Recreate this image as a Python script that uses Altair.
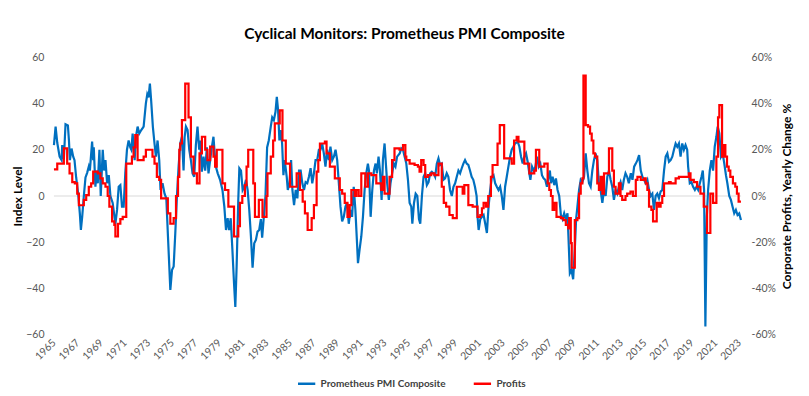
import altair as alt
import pandas as pd

# ---- Data ----
pmi_years = [
    1965.00, 1965.14, 1965.28, 1965.48, 1965.65, 1965.70, 1965.84, 1965.98, 1966.18, 1966.27,
    1966.35, 1966.49, 1966.63, 1966.74, 1966.88, 1967.05, 1967.19, 1967.28, 1967.39, 1967.53,
    1967.67, 1967.81, 1967.95, 1968.04, 1968.23, 1968.32, 1968.37, 1968.51, 1968.60, 1968.71,
    1968.85, 1968.96, 1969.13, 1969.24, 1969.36, 1969.50, 1969.64, 1969.78, 1969.97, 1970.20,
    1970.34, 1970.48, 1970.62, 1970.76, 1970.90, 1971.04, 1971.18, 1971.32, 1971.46, 1971.55,
    1971.66, 1971.83, 1971.94, 1972.08, 1972.22, 1972.39, 1972.59, 1972.78, 1972.90, 1973.01,
    1973.12, 1973.23, 1973.37, 1973.51, 1973.63, 1973.77, 1973.91, 1974.02, 1974.19, 1974.36,
    1974.51, 1974.65, 1974.85, 1974.99, 1975.13, 1975.27, 1975.41, 1975.55, 1975.69, 1975.83,
    1975.97, 1976.06, 1976.17, 1976.31, 1976.45, 1976.59, 1976.73, 1976.87, 1977.01, 1977.15,
    1977.29, 1977.38, 1977.52, 1977.66, 1977.80, 1977.94, 1978.08, 1978.22, 1978.36, 1978.50,
    1978.58, 1978.70, 1978.86, 1979.06, 1979.26, 1979.42, 1979.56, 1979.70, 1979.82, 1979.96,
    1980.10, 1980.24, 1980.35, 1980.46, 1980.60, 1980.69, 1980.83, 1980.97, 1981.11, 1981.25,
    1981.39, 1981.53, 1981.67, 1981.81, 1981.95, 1982.09, 1982.23, 1982.37, 1982.51, 1982.62,
    1982.76, 1982.90, 1983.04, 1983.18, 1983.35, 1983.47, 1983.61, 1983.75, 1983.86, 1983.97,
    1984.08, 1984.19, 1984.31, 1984.42, 1984.53, 1984.70, 1984.79, 1984.93, 1985.07, 1985.18,
    1985.32, 1985.46, 1985.60, 1985.74, 1985.88, 1986.02, 1986.16, 1986.30, 1986.44, 1986.58,
    1986.72, 1986.86, 1987.00, 1987.14, 1987.28, 1987.42, 1987.56, 1987.70, 1987.84, 1987.98,
    1988.12, 1988.26, 1988.40, 1988.55, 1988.69, 1988.83, 1988.97, 1989.11, 1989.25, 1989.39,
    1989.53, 1989.67, 1989.81, 1989.95, 1990.09, 1990.23, 1990.37, 1990.51, 1990.65, 1990.73,
    1990.87, 1991.01, 1991.15, 1991.29, 1991.43, 1991.57, 1991.66, 1991.80, 1991.94, 1992.08,
    1992.22, 1992.33, 1992.47, 1992.59, 1992.73, 1992.84, 1992.98, 1993.09, 1993.20, 1993.34,
    1993.48, 1993.62, 1993.76, 1993.90, 1994.04, 1994.26, 1994.40, 1994.54, 1994.68, 1994.82,
    1994.96, 1995.10, 1995.24, 1995.33, 1995.47, 1995.61, 1995.75, 1995.89, 1996.00, 1996.14,
    1996.28, 1996.42, 1996.56, 1996.70, 1996.84, 1996.98, 1997.12, 1997.26, 1997.40, 1997.54,
    1997.68, 1997.82, 1997.96, 1998.10, 1998.24, 1998.38, 1998.52, 1998.67, 1998.81, 1998.95,
    1999.09, 1999.23, 1999.37, 1999.51, 1999.65, 1999.79, 1999.93, 2000.07, 2000.21, 2000.35,
    2000.49, 2000.63, 2000.77, 2000.85, 2000.94, 2001.08, 2001.22, 2001.36, 2001.50, 2001.64,
    2001.78, 2001.92, 2002.06, 2002.20, 2002.34, 2002.48, 2002.62, 2002.76, 2002.90, 2003.04,
    2003.18, 2003.32, 2003.46, 2003.60, 2003.74, 2003.88, 2004.02, 2004.25, 2004.39, 2004.53,
    2004.67, 2004.81, 2004.95, 2005.09, 2005.23, 2005.32, 2005.46, 2005.60, 2005.74, 2005.88,
    2006.02, 2006.16, 2006.30, 2006.44, 2006.58, 2006.72, 2006.86, 2006.97, 2007.06, 2007.20,
    2007.34, 2007.48, 2007.62, 2007.76, 2007.90, 2008.04, 2008.18, 2008.32, 2008.46, 2008.54,
    2008.66, 2008.80, 2008.94, 2009.08, 2009.19, 2009.30, 2009.44, 2009.58, 2009.72, 2009.86,
    2010.00, 2010.14, 2010.28, 2010.42, 2010.56, 2010.70, 2010.84, 2010.98, 2011.12, 2011.26,
    2011.41, 2011.55, 2011.69, 2011.83, 2011.97, 2012.11, 2012.25, 2012.39, 2012.53, 2012.67,
    2012.81, 2012.95, 2013.09, 2013.23, 2013.37, 2013.51, 2013.65, 2013.82, 2013.96, 2014.10,
    2014.24, 2014.38, 2014.52, 2014.66, 2014.80, 2014.94, 2015.08, 2015.22, 2015.36, 2015.50,
    2015.64, 2015.78, 2015.92, 2016.06, 2016.20, 2016.34, 2016.48, 2016.63, 2016.77, 2016.91,
    2017.05, 2017.19, 2017.33, 2017.47, 2017.61, 2017.75, 2017.89, 2018.03, 2018.17, 2018.31,
    2018.45, 2018.59, 2018.67, 2018.81, 2018.95, 2019.09, 2019.24, 2019.38, 2019.52, 2019.66,
    2019.80, 2019.91, 2020.02, 2020.13, 2020.25, 2020.36, 2020.50, 2020.64, 2020.78, 2020.92,
    2021.06, 2021.17, 2021.31, 2021.45, 2021.59, 2021.73, 2021.87, 2021.99, 2022.15, 2022.29,
    2022.43, 2022.57, 2022.71, 2022.85, 2022.99, 2023.14,
]
pmi_values = [
    22, 30, 23, 17, 15.5, 22, 16, 31, 30.5, 24,
    15.5, 20.5, 17, 15.5, 8, 1, -7.5, -14.7, -9, 0,
    8, 10, 12.7, 11, 23.5, 15.5, 21, 4, 11, 5.5,
    20, 0, 20, 11, 15.5, 5.5, 9, 0, -3, -12,
    -6, 4, 4.7, -4.6, -4.6, 10, 20, 24, 21, 20,
    27, 15.5, 25.6, 30, 27, 28.5, 30, 40, 44, 42.6,
    48.6, 41, 30, 22.7, 17, 24, 15.5, 2.6, 5.5, 1,
    -1, -17.5, -40.6, -32, -30.5, -16, 0, 12.7, 22.7, 25.6,
    11, 25.6, 30, 28.5, 20, 15.5, 9.8, 8.3, 22, 30,
    20, 24, 10.5, 17, 11, 21, 9.8, 15.5, 21, 25.6,
    20, 12.7, 9.8, 7, 2.6, -4.6, -14.7, -9.6, -14.7, -9.6,
    -23, -37.7, -48, -30.5, -1.7, 12, 11, 2.6, 4, 7,
    2.6, -6, -17.5, -31, -20.4, -19, -15.4, -14.7, -10, -18,
    -9, 0, 21, 24, 30, 34, 32.8, 36.4, 42.9, 37,
    24, 28.5, 22.7, 9, 15.5, 8.3, 2.6, 5.5, 15.5, 2.6,
    -3.9, 2.6, -1, 11, 11, 5.5, 2.6, 6, 5.5, 8.3,
    12, 5.5, 9.8, 15.5, 15.5, 20, 20, 22.7, 18.4, 12.7,
    20, 15.5, 21.3, 15.5, 17, 20, 15.5, 5.5, -4.6, -11,
    -9, -4.6, -3, -12, -6, -9, 4, -6, -20.4, -29,
    -23, -17.5, -9, 2.6, 9.8, 14, 11, -9, 2.6, 11,
    14, 9.8, 17, 11, -1.7, 15.5, 22.7, 14, 5.5, -1.7,
    5.5, 9.8, 14, 12.7, 17, 18.4, 20.6, 20, 17, 14,
    7, -3, -4.6, -12, -3, 1, 0, -10, -12, 0,
    8.3, 9.8, 4.7, 6, 9.8, 10.5, 9.8, 8.3, 14, 16.3,
    13.4, 14, 7, 7.6, 9.8, 8.3, 2.6, 0, 4, 5.5,
    8.3, 11, 9.8, 12, 14, 15.5, 14, 13.4, 11, 8.3,
    7, 4, 0, -9, -14.7, -10, -9, -8.2, -12, -16,
    -4.6, 2.6, 8.3, 9, 5.5, 4, 2.6, 4, 0, -6,
    4, 8.3, 12.7, 17, 20, 21.3, 22.7, 23.5, 21.3, 17,
    14, 17, 18.4, 14.8, 9.8, 7, 12.7, 11, 12.7, 17,
    12.7, 14, 9, 7.6, 7, 4, 8.3, 11, 5.5, 8.3,
    4.7, 7.6, 2.6, 0, -8.2, -10, -7.5, -10, -7.5, -17.5,
    -33.4, -32, -36, -23, -10, -4.6, 2.6, 7, 6, 8.3,
    18.4, 11, 5.5, 4, 11, 15.5, 18.4, 15.5, 5.5, 2.6,
    -3, 2.6, 0, 8.3, 11, 7, 4, -1.7, 2.6, 1,
    4, 6, 2.6, 7, 9.8, 8.3, 5.5, 9.8, 7, 12.7,
    14, 15.5, 17.7, 11, 8.3, 7, 5.5, 7, 2.6, 0,
    1, -6, 0, 1, -1, 1.9, 2.6, 11, 17, 18.4,
    14.8, 15.5, 17, 20, 22.7, 21.3, 22.7, 17, 22.7, 20,
    22, 20, 12.7, 5.5, 6, 4, 2.6, 4, 2.6, 5.5,
    8.3, 11, 2.6, -56.4, -9, 2.6, 11, 15.5, 11, 21.3,
    25.6, 30, 27, 17, 18.4, 14, 9, 5.5, 0, -1.7,
    -4.6, -7.5, -6, -8.2, -7.5, -10.4,
]

profit_years = [
    1965.00, 1965.28, 1965.84, 1966.12, 1966.32, 1966.55, 1966.77, 1966.97, 1967.11, 1967.53,
    1967.73, 1967.95, 1968.15, 1968.32, 1968.71, 1968.93, 1969.13, 1969.36, 1969.55, 1969.69,
    1969.92, 1970.11, 1970.20, 1970.42, 1970.62, 1970.82, 1971.12, 1971.60, 1971.74, 1971.88,
    1972.08, 1972.59, 1972.78, 1973.34, 1973.51, 1973.71, 1973.91, 1974.07, 1974.64, 1974.85,
    1975.13, 1975.33, 1975.50, 1975.61, 1975.69, 1975.83, 1976.11, 1976.39, 1976.59, 1976.82,
    1977.10, 1977.32, 1977.52, 1977.80, 1977.99, 1978.22, 1978.50, 1978.64, 1978.78, 1979.26,
    1979.48, 1979.76, 1980.24, 1980.60, 1980.74, 1980.94, 1981.16, 1981.30, 1981.44, 1981.87,
    1982.01, 1982.34, 1982.65, 1982.99, 1983.07, 1983.35, 1983.55, 1983.69, 1984.11, 1984.34,
    1984.62, 1984.98, 1985.54, 1985.82, 1986.05, 1986.24, 1986.47, 1986.81, 1987.00, 1987.23,
    1987.37, 1987.51, 1987.93, 1988.07, 1988.35, 1988.77, 1989.19, 1989.39, 1989.61, 1989.84,
    1990.03, 1990.17, 1990.45, 1990.59, 1990.79, 1991.01, 1991.35, 1991.57, 1991.86, 1992.28,
    1992.70, 1992.84, 1992.98, 1993.40, 1993.62, 1993.82, 1994.24, 1994.54, 1994.74, 1994.82,
    1995.10, 1995.52, 1995.80, 1995.94, 1996.08, 1996.28, 1996.42, 1996.65, 1996.93, 1997.21,
    1997.54, 1997.82, 1997.99, 1998.19, 1998.47, 1998.75, 1999.09, 1999.59, 1999.73, 2000.07,
    2000.43, 2000.85, 2001.08, 2001.22, 2001.36, 2001.56, 2001.75, 2001.98, 2002.12, 2002.54,
    2002.73, 2003.10, 2003.74, 2003.94, 2004.16, 2004.31, 2004.81, 2005.23, 2005.65, 2005.79,
    2006.07, 2006.50, 2006.78, 2006.92, 2007.06, 2007.20, 2007.34, 2007.53, 2007.90, 2008.12,
    2008.32, 2008.52, 2008.60, 2008.74, 2008.82, 2009.08, 2009.30, 2009.44, 2009.58, 2009.72,
    2009.81, 2010.00, 2010.20, 2010.37, 2010.51, 2010.65, 2010.79, 2010.98, 2011.12, 2011.26,
    2011.41, 2011.55, 2011.97, 2012.25, 2012.39, 2012.53, 2012.81, 2012.95, 2013.09, 2013.37,
    2013.51, 2013.79, 2014.00, 2014.24, 2014.38, 2014.66, 2014.94, 2015.08, 2015.22, 2015.36,
    2015.56, 2015.70, 2016.01, 2016.20, 2016.34, 2016.48, 2016.63, 2017.05, 2017.19, 2017.61,
    2017.89, 2018.73, 2018.87, 2019.15, 2019.43, 2019.71, 2019.99, 2020.27, 2020.55, 2020.78,
    2021.06, 2021.20, 2021.31, 2021.54, 2021.68, 2021.82, 2021.96, 2022.10, 2022.24, 2022.46,
    2022.66, 2022.80, 2022.94, 2023.14,
]
profit_values = [
    11.5, 14, 20.6, 14, 9.8, 6, 5.5, 1, -4, -1.7,
    0.4, 4, 5.5, 10.5, 9.8, 7.6, 5.5, 4, 0, -4.6,
    -11, -12.5, -17.5, -12, -10, -9, 14, 17, 21, 26.3,
    15.5, 17, 20, 17, 14, 8.3, 7, -1, -7.5, -12,
    -9.6, 0, 8.3, 20, 22.7, 32.8, 48.6, 34, 17, 9.8,
    5.5, 18.4, 25.6, 20, 15.5, 21.3, 17, 12.7, 20, 5.5,
    2.6, -4.6, -17.5, -13, -3, 0, 4.7, 12.7, 20, 5.5,
    -9, -1.7, -9, 0, 9.8, 17, 24, 31.4, 37, 24,
    14, 4, 9.8, 2.6, -2.4, -7.5, -14.7, -9.6, -3.9, 10.5,
    15.5, 22.7, 23.5, 18.4, 12.7, 7.6, 2.6, 1, -3, -9,
    -3.9, 2.6, 0, 2.6, 0, 9.8, 4, 9.8, 9, 5.5,
    2.6, 8.3, 1, 8.3, 15.5, 20.6, 20, 22, 17, 15.5,
    14, 13.4, 12.7, 10.5, 15.5, 13.4, 8.3, 9, 9.8, 9,
    14, 4, -3, -4.6, -8.2, -9.6, 4, 1, 4.7, -3.9,
    -4.6, -9, -8.2, -5.3, -3, -4.6, 0, 8.3, 13.4, 22.7,
    30.6, 16.3, 14, 24, 25.6, 23.5, 14, 9.8, 11, 20,
    12.7, 14, 5.5, 2.6, 0, -6, -3, -9, -9.6, -10.4,
    -12.5, -14, -9.6, -20.4, -31, -10.4, -9.6, 1, 5.5, 7.6,
    52, 30.6, 30, 27, 24, 18.4, 17, 5.5, 2.6, 8.3,
    1, 9.8, 20.6, 11, 4, 1, 5.5, 0, -1.7, 0,
    1, 1.9, 0, 7, 8.3, 7, 7.6, 5.5, 2.6, -4.6,
    -6, -11, -3, -4.6, -3, 0, 5.5, 6, 5.5, 7.6,
    8.3, 9.8, 7, 6, 4, 1, -4.6, -16, 1, -3,
    17, 34, 39.3, 17, 22, 17, 12.7, 11, 8.3, 5.5,
    4, 1, -2.4, -2.4,
]

tick_years = list(range(1965, 2024, 2))
left_ticks = [-60, -40, -20, 0, 20, 40, 60]
series_names = ["Prometheus PMI Composite", "Profits"]
series_colors = ["#0070C0", "#FF0000"]

pmi_df = pd.DataFrame({"year": pmi_years, "value": pmi_values, "series": series_names[0]})
profit_df = pd.DataFrame({"year": profit_years, "value": profit_values, "series": series_names[1]})
zero_df = pd.DataFrame({"y": [0]})

FONT = "Lato"
GREY = "#595959"

color = alt.Color(
    "series:N",
    scale=alt.Scale(domain=series_names, range=series_colors),
    legend=alt.Legend(
        title=None, orient="none", direction="horizontal",
        legendX=243, legendY=317,
        symbolType="stroke", symbolStrokeWidth=2.5, symbolSize=300,
        labelFont=FONT, labelFontSize=10, labelFontWeight="bold", labelColor="#404040",
        columnPadding=22, symbolOffset=0,
    ),
)

x_enc = alt.X(
    "year:Q",
    scale=alt.Scale(domain=[1965, 2023.15], nice=False, zero=False),
    axis=alt.Axis(
        values=tick_years, format="d", labelAngle=-45, labelAlign="right",
        labelBaseline="middle", labelFont=FONT, labelFontSize=10.5, labelColor=GREY,
        labelPadding=6, ticks=False, domain=False, grid=False, title=None,
        labelOverlap=False, labelFlush=False,
    ),
)

y_scale = alt.Scale(domain=[-60, 60], nice=False)

zero_rule = alt.Chart(zero_df).mark_rule(color="#D9D9D9", strokeWidth=1).encode(
    y=alt.Y("y:Q", scale=y_scale, axis=None)
)

pmi_line = alt.Chart(pmi_df).mark_line(strokeWidth=2.2).encode(
    x=x_enc,
    y=alt.Y(
        "value:Q", scale=y_scale,
        axis=alt.Axis(
            orient="left", values=left_ticks, title="Index Level", titleFont=FONT,
            titleFontSize=12, titleFontWeight="bold", titleColor="#000000",
            titleAngle=270, titleX=-36, titleY=139, titleAlign="center",
            titleBaseline="middle",
            labelFont=FONT, labelFontSize=10.5, labelColor=GREY,
            labelPadding=10, ticks=False, domain=False, grid=False,
        ),
    ),
    color=color,
)

profit_line = alt.Chart(profit_df).mark_line(strokeWidth=2.2, interpolate="step-after").encode(
    x=x_enc,
    y=alt.Y(
        "value:Q", scale=y_scale,
        axis=alt.Axis(
            orient="right", values=left_ticks, labelExpr="datum.value + '%'",
            title="Corporate Profits, Yearly Change %", titleAngle=270,
            titleFont=FONT, titleFontSize=12, titleFontWeight="bold",
            titleColor="#000000", titlePadding=18, labelFont=FONT, labelFontSize=10.5,
            labelColor=GREY, labelPadding=10, ticks=False, domain=False, grid=False,
        ),
    ),
    color=color,
)

chart = (
    alt.layer(zero_rule, pmi_line, profit_line)
    .resolve_scale(y="independent")
    .properties(
        width=688,
        height=278,
        autosize=alt.AutoSizeParams(type="none"),
        padding={"left": 46, "top": 49, "right": 60, "bottom": 56},
        title=alt.TitleParams(
            "Cyclical Monitors: Prometheus PMI Composite",
            font=FONT, fontSize=15.5, fontWeight="bold", color="#000000",
            anchor="middle", offset=10, dx=7,
        ),
    )
    .configure_view(stroke=None)
)

chart.save("out.html", embed_options={"renderer": "svg", "actions": False})
